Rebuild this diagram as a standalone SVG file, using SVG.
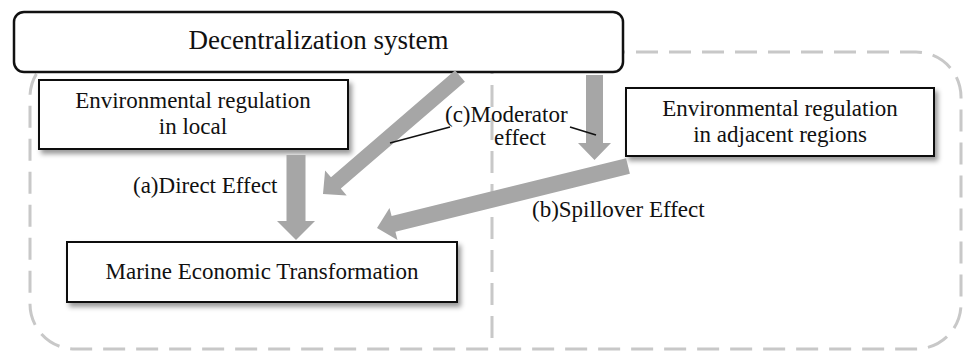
<svg xmlns="http://www.w3.org/2000/svg" width="963" height="351" viewBox="0 0 963 351">
<style>
  text { font-family: "Liberation Serif", "Times New Roman", serif; fill: #111; }
  .lbl { font-size: 23px; }
  .title { font-size: 27px; }
  .box { fill: #fff; stroke: #111; stroke-width: 2; }
  .region { fill: none; stroke: #c8c8c8; stroke-width: 3; stroke-dasharray: 22 11; }
  .arrow { fill: #a6a6a6; stroke: none; }
  .leader { stroke: #111; stroke-width: 1.5; fill: none; }
</style>
<defs>
  <filter id="shadow" x="-10%" y="-20%" width="125%" height="150%">
    <feDropShadow dx="3" dy="4" stdDeviation="2.5" flood-color="#000" flood-opacity="0.4"/>
  </filter>
</defs>
<rect width="963" height="351" fill="#fff"/>

<g id="regions">
  <rect class="region" x="30" y="52" width="931" height="297" rx="45" ry="45"/>
  <line class="region" x1="492" y1="52" x2="492" y2="349" stroke-dasharray="26 11"/>
</g>

<g id="decentralization">
  <rect x="14" y="12" width="609" height="60" rx="10" ry="10" fill="#fff" stroke="#111" stroke-width="2.5"/>
  <text class="title" x="318.5" y="49" text-anchor="middle">Decentralization system</text>
</g>

<g id="env-local">
  <rect class="box" x="39" y="80" width="309" height="69" filter="url(#shadow)"/>
  <text class="lbl" x="193" y="108" text-anchor="middle">Environmental regulation</text>
  <text class="lbl" x="193" y="134" text-anchor="middle">in local</text>
</g>

<g id="env-adjacent">
  <rect class="box" x="626" y="88" width="308" height="68" filter="url(#shadow)"/>
  <text class="lbl" x="780" y="116" text-anchor="middle">Environmental regulation</text>
  <text class="lbl" x="780" y="142" text-anchor="middle">in adjacent regions</text>
</g>

<g id="marine">
  <rect class="box" x="67" y="242" width="390" height="60" filter="url(#shadow)"/>
  <text class="lbl" x="262" y="279" text-anchor="middle">Marine Economic Transformation</text>
</g>

<g id="connectors">
  <polygon id="direct" class="arrow" points="286.5,155 305.5,155 305.5,221 315,221 296,240 277,221 286.5,221"/>
  <polygon id="moderator-vertical" class="arrow" points="586,75 603,75 603,143 611,143 594.5,160 578,143 586,143"/>
  <polygon id="moderator-diagonal" class="arrow" points="464.9,81.7 340.8,188.6 346.7,195.4 323,194 325.1,170.4 331,177.2 455.1,70.3"/>
  <polygon id="spillover" class="arrow" points="629.9,173.8 395.4,231.7 397.5,239.9 377,228 389.5,207.9 391.6,216.1 626.1,158.2"/>
  <line class="leader" x1="450" y1="127" x2="390" y2="143"/>
  <line class="leader" x1="570" y1="127" x2="596" y2="135"/>
  <text class="lbl" x="133" y="193">(a)Direct Effect</text>
  <text class="lbl" x="445" y="122">(c)Moderator</text>
  <text class="lbl" x="494" y="145">effect</text>
  <text class="lbl" x="532" y="217">(b)Spillover Effect</text>
</g>
</svg>
